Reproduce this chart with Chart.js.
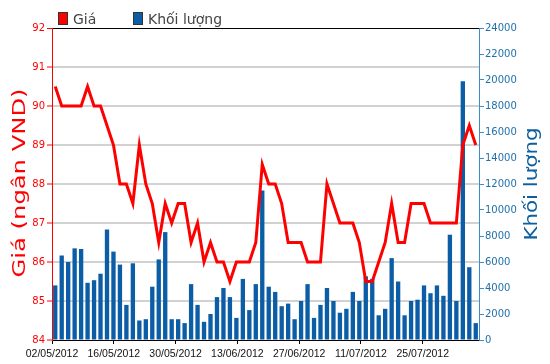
<!DOCTYPE html>
<html>
<head>
<meta charset="utf-8">
<script src="https://cdn.jsdelivr.net/npm/chart.js@4.4.1/dist/chart.umd.min.js"></script>
<style>
    html, body { margin: 0; padding: 0; background: #fff; }
</style>
</head>
<body>
<canvas id="chartGia" width="550" height="364"></canvas>
<script>
// Ngày giao dịch 02/05/2012 - 01/08/2012
const ngayGiaoDich = [
    "02/05", "03/05", "04/05", "07/05", "08/05", "09/05", "10/05", "11/05", "14/05", "15/05",
    "16/05", "17/05", "18/05", "21/05", "22/05", "23/05", "24/05", "25/05", "28/05", "29/05",
    "30/05", "31/05", "01/06", "04/06", "05/06", "06/06", "07/06", "08/06", "11/06", "12/06",
    "13/06", "14/06", "15/06", "18/06", "19/06", "20/06", "21/06", "22/06", "25/06", "26/06",
    "27/06", "28/06", "29/06", "02/07", "03/07", "04/07", "05/07", "06/07", "09/07", "10/07",
    "11/07", "12/07", "13/07", "16/07", "17/07", "18/07", "19/07", "20/07", "23/07", "24/07",
    "25/07", "26/07", "27/07", "30/07", "31/07", "01/08",
];

// Giá (ngàn VND)
const gia = [
    90.5, 90, 90, 90, 90, 90.5, 90, 90, 89.5, 89,
    88, 88, 87.5, 89, 88, 87.5, 86.5, 87.5, 87, 87.5,
    87.5, 86.5, 87, 86, 86.5, 86, 86, 85.5, 86, 86,
    86, 86.5, 88.5, 88, 88, 87.5, 86.5, 86.5, 86.5, 86,
    86, 86, 88, 87.5, 87, 87, 87, 86.5, 85.5, 85.5,
    86, 86.5, 87.5, 86.5, 86.5, 87.5, 87.5, 87.5, 87, 87,
    87, 87, 87, 89, 89.5, 89,
];

// Khối lượng
const khoiLuong = [
    4200, 6500, 6000, 7050, 7000, 4400, 4600, 5100, 8500, 6800,
    5800, 2700, 5900, 1500, 1600, 4100, 6200, 8300, 1600, 1600,
    1300, 4300, 2700, 1400, 2000, 3300, 4000, 3300, 1700, 4700,
    2300, 4300, 11500, 4100, 3700, 2600, 2800, 1600, 3000, 4300,
    1700, 2700, 4000, 3000, 2100, 2400, 3700, 3000, 4900, 4700,
    1900, 2400, 6300, 4500, 1900, 3000, 3100, 4200, 3600, 4200,
    3400, 8100, 3000, 19900, 5600, 1300,
];

// Nhãn trục hoành
const nhanNgay = ["02/05/2012", "16/05/2012", "30/05/2012", "13/06/2012", "27/06/2012", "11/07/2012", "25/07/2012"];

// --- Chú thích và tiêu đề trục ---
function veTieuDeDoc(ctx, text, x, cy, dai, mau) {
    ctx.save();
    ctx.translate(x, cy);
    ctx.rotate(-Math.PI / 2);
    ctx.font = '17px "DejaVu Sans"';
    const w = ctx.measureText(text).width;
    ctx.scale(dai / w, 1);
    ctx.fillStyle = mau;
    ctx.textAlign = "center";
    ctx.textBaseline = "alphabetic";
    ctx.fillText(text, 0, 0);
    ctx.restore();
}

const pluginChu = {
    id: "pluginChu",
    afterDraw(chart) {
        const ctx = chart.ctx;
        const ds = chart.data.datasets;
        const viTri = [58, 133];
        ctx.save();
        ds.forEach((d, i) => {
            const x = viTri[i];
            ctx.fillStyle = d.mauChuThich;
            ctx.fillRect(x, 12, 10, 13);
            ctx.strokeStyle = "#333";
            ctx.lineWidth = 1;
            ctx.strokeRect(x + 0.5, 12.5, 9, 12);
            ctx.fillStyle = "#444";
            ctx.font = '14px "DejaVu Sans"';
            ctx.textBaseline = "alphabetic";
            ctx.fillText(d.label, x + 15, 24);
        });
        ctx.restore();

        veTieuDeDoc(ctx, "Giá (ngân VND)", 25, 183, 189, "#ff0000");
        veTieuDeDoc(ctx, "Khối lượng", 537, 184, 113, "#0d5fa0");
    },
};

const ctx = document.getElementById("chartGia").getContext("2d");
new Chart(ctx, {
    data: {
        labels: ngayGiaoDich,
        datasets: [
            {
                type: "line",
                label: "Giá",
                data: gia,
                yAxisID: "y",
                xAxisID: "x",
                borderColor: "#ff0000",
                borderWidth: 3,
                pointRadius: 0,
                tension: 0,
                order: 0,
                mauChuThich: "#ff0000",
            },
            {
                type: "bar",
                label: "Khối lượng",
                data: khoiLuong,
                yAxisID: "y1",
                xAxisID: "x",
                backgroundColor: "#0b5ea6",
                categoryPercentage: 1,
                barPercentage: 0.67,
                order: 1,
                mauChuThich: "#0b5ea6",
            },
        ],
    },
    options: {
        responsive: false,
        animation: false,
        layout: { padding: { top: 28, left: 0, right: 0, bottom: 0 } },
        plugins: {
            legend: { display: false },
            tooltip: { enabled: false },
        },
        scales: {
            x: {
                type: "category",
                display: false,
                offset: true,
            },
            xNgay: {
                type: "linear",
                position: "bottom",
                min: 0,
                max: 6.91,
                afterBuildTicks: (s) => { s.ticks = nhanNgay.map((_, k) => ({ value: k })); },
                afterFit: (s) => { s.height = 24; },
                ticks: {
                    color: "#111",
                    padding: 4,
                    maxRotation: 0,
                    autoSkip: false,
                    font: { family: '"Liberation Sans"', size: 10.5 },
                    callback: (v, i) => nhanNgay[i],
                },
                grid: { drawOnChartArea: false, drawTicks: true, tickLength: 4, color: "#000" },
                border: { color: "#000", width: 1 },
            },
            y: {
                position: "left",
                min: 84,
                max: 92,
                afterFit: (s) => { s.width = 52; },
                ticks: {
                    stepSize: 1,
                    color: "#ff0000",
                    padding: 2,
                    font: { family: '"DejaVu Sans"', size: 10 },
                },
                grid: {
                    color: (c) => c.tick.value === 92 ? "#000" : (c.tick.value === 84 ? "rgba(0,0,0,0)" : "#d2d2d2"),
                    lineWidth: (c) => c.tick.value === 92 ? 1 : 2,
                    tickColor: "#ff0000",
                    tickWidth: 1,
                    tickLength: 5,
                },
                border: { color: "#ff0000", width: 1 },
            },
            y1: {
                position: "right",
                min: 0,
                max: 24000,
                afterFit: (s) => { s.width = 71; },
                ticks: {
                    stepSize: 2000,
                    color: "#1f70aa",
                    padding: 1,
                    font: { family: '"DejaVu Sans"', size: 10 },
                    callback: (v) => String(v),
                },
                grid: {
                    drawOnChartArea: false,
                    tickColor: "#3c8dc8",
                    tickWidth: 1,
                    tickLength: 5,
                },
                border: { color: "#3c8dc8", width: 1 },
            },
        },
    },
    plugins: [pluginChu],
});
</script>
</body>
</html>
